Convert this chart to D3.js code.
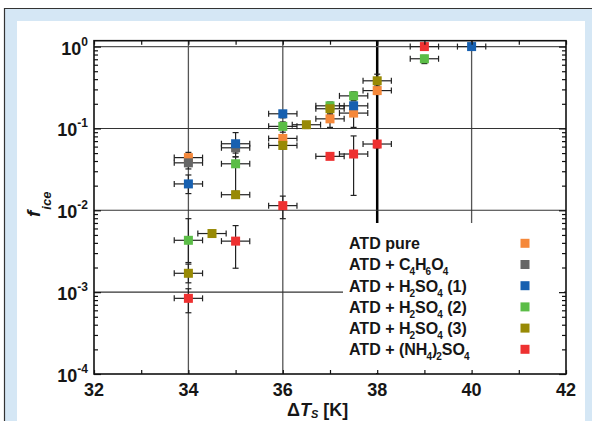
<!DOCTYPE html>
<html><head><meta charset="utf-8">
<script src="https://cdn.jsdelivr.net/npm/d3@7"></script>
<style>body{margin:0;background:#fff}svg{display:block}</style>
</head><body><svg id="c" width="592" height="421"></svg>
<script>
// ---------- data ----------
const xTickLabels = [32, 34, 36, 38, 40, 42];
const yDecades = [1e-4, 1e-3, 1e-2, 1e-1, 1];
const yExponents = ["-4", "-3", "-2", "-1", "0"];
const xErr = 0.3;

const pureT  = [34, 36, 37, 37.5, 38];
const pureF  = [0.044, 0.0755, 0.131, 0.154, 0.29];
const pureLo = [0.040, 0.068, 0.103, 0.103, 0.26];
const pureHi = [0.051, 0.084, 0.150, 0.170, 0.32];

const succT  = [34, 35];
const succF  = [0.038, 0.058];
const succLo = [0.032, 0.045];
const succHi = [0.044, 0.065];

const h1T  = [34, 35, 36, 37.5, 40];
const h1F  = [0.021, 0.065, 0.151, 0.189, 1.0];
const h1Lo = [0.016, 0.050, 0.135, 0.170, 0.95];
const h1Hi = [0.027, 0.089, 0.165, 0.210, 1.05];

const h2T  = [34, 35, 36, 37, 37.5, 39];
const h2F  = [0.0043, 0.037, 0.106, 0.189, 0.25, 0.71];
const h2Lo = [0.0023, 0.017, 0.090, 0.170, 0.22, 0.62];
const h2Hi = [0.0079, 0.045, 0.120, 0.210, 0.28, 0.78];

const h3T  = [34, 34.5, 35, 36, 36.5, 37, 38];
const h3F  = [0.0017, 0.0052, 0.0155, 0.062, 0.111, 0.174, 0.382];
const h3Lo = [0.0013, 0.0047, 0.0140, 0.056, 0.100, 0.150, 0.330];
const h3Hi = [0.0022, 0.0057, 0.0170, 0.068, 0.120, 0.200, 0.460];

const amT  = [34, 35, 36, 37, 37.5, 38, 39];
const amF  = [0.00084, 0.0042, 0.0114, 0.0456, 0.0487, 0.0645, 1.0];
const amLo = [0.00056, 0.00196, 0.0079, 0.042, 0.0152, 0.058, 0.92];
const amHi = [0.0011, 0.0065, 0.0149, 0.049, 0.081, 0.071, 1.08];

const legendLabels = [
  [["ATD pure"]],
  [["ATD + C"], ["4", 1], ["H"], ["6", 1], ["O"], ["4", 1]],
  [["ATD + H"], ["2", 1], ["SO"], ["4", 1], [" (1)"]],
  [["ATD + H"], ["2", 1], ["SO"], ["4", 1], [" (2)"]],
  [["ATD + H"], ["2", 1], ["SO"], ["4", 1], [" (3)"]],
  [["ATD + (NH"], ["4", 1], [")"], ["2", 1], ["SO"], ["4", 1]]
];
const colors = ["#f5883a", "#666666", "#1760b0", "#5bbd47", "#988a05", "#ee3131"];

const series = [
  {T: pureT, F: pureF, lo: pureLo, hi: pureHi, c: colors[0]},
  {T: succT, F: succF, lo: succLo, hi: succHi, c: colors[1]},
  {T: h1T, F: h1F, lo: h1Lo, hi: h1Hi, c: colors[2]},
  {T: h2T, F: h2F, lo: h2Lo, hi: h2Hi, c: colors[3]},
  {T: h3T, F: h3F, lo: h3Lo, hi: h3Hi, c: colors[4]},
  {T: amT, F: amF, lo: amLo, hi: amHi, c: colors[5]}
];
const drawOrder = [0, 3, 1, 2, 4, 5];

// ---------- layout ----------
const FONT = "'Liberation Sans', Arial, Helvetica, sans-serif";
const TXT = "#161616";
const svg = d3.select("#c");
const x = d3.scaleLinear().domain([32, 42]).range([94, 566]);
const y = d3.scaleLog().domain([1e-4, 1.18]).range([374, 40.7]);
const [X0, X1] = x.range();
const Y0 = y.range()[0], Y1 = y.range()[1];

// frame
svg.append("rect").attr("width", 592).attr("height", 421).attr("fill", "#fff");
svg.append("rect").attr("x", 4.5).attr("y", 8.5).attr("width", 590).attr("height", 415).attr("fill", "#d5e7f5");
svg.append("rect").attr("x", 17).attr("y", 21).attr("width", 568).attr("height", 402).attr("fill", "#fff");
svg.append("line").attr("x1", 4).attr("x2", 592).attr("y1", 8.5).attr("y2", 8.5).attr("stroke", "#333").attr("stroke-width", 1.2);
svg.append("line").attr("x1", 4.5).attr("x2", 4.5).attr("y1", 8).attr("y2", 421).attr("stroke", "#333").attr("stroke-width", 1.2);

// gridlines
const vGrid = [34, 36, 38, 40];
svg.append("g").selectAll("line").data(vGrid).join("line")
  .attr("x1", d => x(d)).attr("x2", d => x(d)).attr("y1", Y1).attr("y2", Y0)
  .attr("stroke", d => d === 38 ? "#000" : "#555")
  .attr("stroke-width", d => d === 38 ? 2.5 : 1.3);
const hGrid = [1e-3, 1e-2, 1e-1, 1];
svg.append("g").selectAll("line").data(hGrid).join("line")
  .attr("x1", X0).attr("x2", X1).attr("y1", d => y(d)).attr("y2", d => y(d))
  .attr("stroke", d => d === 1 ? "#555" : "#333").attr("stroke-width", 1.1);

// legend background
svg.append("rect").attr("x", 343).attr("y", 223).attr("width", 221).attr("height", 150).attr("fill", "#fff");

// error bars
const eb = svg.append("g").attr("stroke", "#222").attr("stroke-width", 1.2).attr("fill", "none");
const cap = 3;
series.forEach(s => {
  s.T.forEach((t, i) => {
    const cx = x(t), cy = y(s.F[i]);
    const xl = x(t - xErr), xr = x(t + xErr);
    const yt = y(s.hi[i]), yb = y(s.lo[i]);
    eb.append("line").attr("x1", xl).attr("x2", xr).attr("y1", cy).attr("y2", cy);
    eb.append("line").attr("x1", xl).attr("x2", xl).attr("y1", cy - cap).attr("y2", cy + cap);
    eb.append("line").attr("x1", xr).attr("x2", xr).attr("y1", cy - cap).attr("y2", cy + cap);
    eb.append("line").attr("x1", cx).attr("x2", cx).attr("y1", yt).attr("y2", yb);
    eb.append("line").attr("x1", cx - cap).attr("x2", cx + cap).attr("y1", yt).attr("y2", yt);
    eb.append("line").attr("x1", cx - cap).attr("x2", cx + cap).attr("y1", yb).attr("y2", yb);
  });
});

// markers
const M = 9;
drawOrder.forEach(k => {
  const s = series[k];
  svg.append("g").selectAll("rect").data(s.T.map((t, i) => [t, s.F[i]])).join("rect")
    .attr("x", d => x(d[0]) - M / 2).attr("y", d => y(d[1]) - M / 2)
    .attr("width", M).attr("height", M).attr("fill", s.c);
});

// legend
const lg = svg.append("g").attr("font-family", FONT).attr("font-weight", "bold").attr("font-size", 16).attr("fill", TXT);
legendLabels.forEach((parts, i) => {
  const cy = 243.3 + i * 21.2;
  const t = lg.append("text").attr("x", 349).attr("y", cy + 5.8);
  let sub = false;
  parts.forEach(p => {
    const ts = t.append("tspan").text(p[0]);
    if (p[1]) { ts.attr("font-size", 10).attr("dy", sub ? 0 : 5).attr("dx", -1); sub = true; }
    else { ts.attr("dy", sub ? -5 : 0); sub = false; }
  });
  lg.append("rect").attr("x", 525 - 4.5).attr("y", cy - 4.5).attr("width", 9).attr("height", 9).attr("fill", colors[i]);
});

// axes
const axG = svg.append("g");
function strip(g) { g.select(".domain").remove(); g.selectAll("line").attr("stroke", "#111").attr("stroke-width", 1.2); }
axG.append("g").attr("transform", `translate(0,${Y0})`)
  .call(d3.axisBottom(x).tickValues(d3.range(32, 43)).tickSize(-4).tickFormat("")).call(strip);
axG.append("g").attr("transform", `translate(0,${Y1})`)
  .call(d3.axisTop(x).tickValues(d3.range(32, 43)).tickSize(-4).tickFormat("")).call(strip);
const minorVals = [];
for (let e = -4; e < 0; e++) for (let k = 2; k <= 9; k++) minorVals.push(k * Math.pow(10, e));
axG.append("g").attr("transform", `translate(${X0},0)`)
  .call(d3.axisLeft(y).tickValues(minorVals).tickSize(-4).tickFormat("")).call(strip);
axG.append("g").attr("transform", `translate(${X0},0)`)
  .call(d3.axisLeft(y).tickValues(yDecades).tickSize(-7).tickFormat("")).call(strip);
axG.append("g").attr("transform", `translate(${X1},0)`)
  .call(d3.axisRight(y).tickValues(minorVals).tickSize(-4).tickFormat("")).call(strip);
axG.append("g").attr("transform", `translate(${X1},0)`)
  .call(d3.axisRight(y).tickValues(yDecades).tickSize(-7).tickFormat("")).call(strip);
axG.append("rect").attr("x", X0).attr("y", Y1).attr("width", X1 - X0).attr("height", Y0 - Y1)
  .attr("fill", "none").attr("stroke", "#111").attr("stroke-width", 1.6);

// tick labels
const tl = svg.append("g").attr("font-family", FONT).attr("font-weight", "bold").attr("fill", TXT);
xTickLabels.forEach(v => {
  tl.append("text").attr("x", x(v)).attr("y", Y0 + 21.5).attr("text-anchor", "middle").attr("font-size", 18).text(v);
});
yDecades.forEach((v, i) => {
  const t = tl.append("text").attr("x", 88).attr("y", y(v) + 8).attr("text-anchor", "end").attr("font-size", 18);
  t.append("tspan").text("10");
  t.append("tspan").attr("font-size", 12).attr("dy", -9).text(yExponents[i]);
});

// axis titles
const xt = svg.append("text").attr("x", 287).attr("y", 415.5).attr("font-family", FONT).attr("font-weight", "bold").attr("font-size", 18).attr("fill", TXT);
xt.append("tspan").text("Δ");
xt.append("tspan").attr("font-style", "italic").text("T");
xt.append("tspan").attr("font-style", "italic").attr("font-size", 11).attr("dy", 2.5).text("S");
xt.append("tspan").attr("dy", -2.5).text(" [K]");

const yt = svg.append("text").attr("transform", "translate(40,217) rotate(-90)").attr("font-family", FONT).attr("font-weight", "bold").attr("fill", TXT);
yt.append("tspan").attr("font-size", 19).attr("font-style", "italic").text("f");
yt.append("tspan").attr("font-size", 13).attr("font-style", "italic").attr("dy", 11).attr("dx", 1).text("ice");
</script></body></html>
